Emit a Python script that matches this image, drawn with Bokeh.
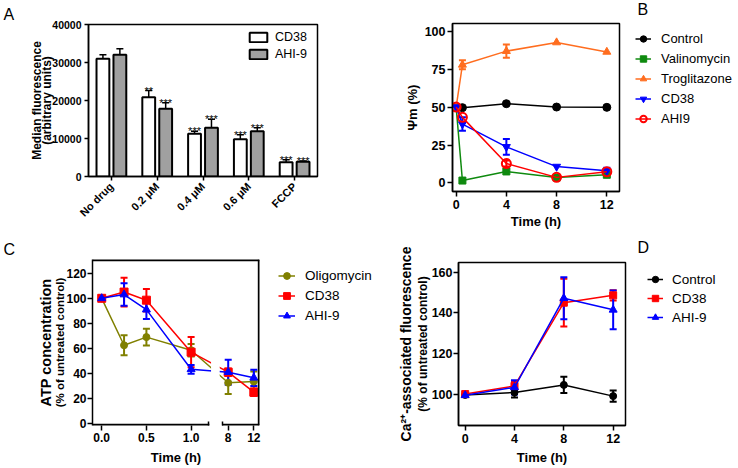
from math import pi
import numpy as np
from bokeh.plotting import figure
from bokeh.layouts import column, row
from bokeh.models import (FactorRange, Range1d, FixedTicker, Legend, LegendItem,
                          Whisker, TeeHead, LinearAxis, ColumnDataSource, Label,
                          BoxAnnotation, CustomJSTickFormatter, Title)
from bokeh.transform import dodge
from bokeh.core.properties import value
from bokeh.embed import file_html
from bokeh.resources import INLINE

FONT = "Liberation Sans"

# ---------------- data ----------------
# Panel A
a_categories = ["No drug", "0.2 \u03bcM", "0.4 \u03bcM", "0.6 \u03bcM", "FCCP"]
a_cd38 = [30980, 20870, 11230, 9820, 3770]
a_cd38_err = [1050, 1750, 700, 1150, 620]
a_ahi9 = [32030, 17810, 12810, 11930, 3860]
a_ahi9_err = [1570, 1580, 2280, 880, 200]
a_cd38_sig = ["", "**", "***", "***", "***"]
a_ahi9_sig = ["", "***", "***", "***", "***"]
a_yticks = [0, 10000, 20000, 30000, 40000]

# Panel B
b_time = [0, 0.5, 4, 8, 12]
b_control = [50, 49.6, 52.2, 50, 49.8]
b_valinomycin = [50, 1.6, 7.6, 3.6, 5.4]
b_troglitazone = [50, 77.8, 86.8, 92.5, 86.3]
b_troglitazone_err = [0, 3, 4.3, 0, 0]
b_cd38 = [50, 38.8, 23.8, 10.8, 8.1]
b_cd38_err = [0, 4.4, 5.2, 0, 2]
b_ahi9 = [50, 43.2, 12.8, 3.7, 7.4]
b_ahi9_err = [0, 0, 2, 0, 0]
b_xticks = [0, 4, 8, 12]
b_yticks = [0, 25, 50, 75, 100]

# Panel C
c_time = [0, 0.25, 0.5, 1.0, 8, 12]
c_oligomycin = [100, 62.5, 69, 58.5, 32.5, 33.5]
c_oligomycin_err = [0, 8, 6.6, 5, 9, 8]
c_cd38 = [100, 105, 98.5, 57, 41, 25]
c_cd38_err = [1.5, 11.5, 9, 12, 3, 3]
c_ahi9 = [100, 103, 91, 43.3, 41, 36.5]
c_ahi9_err = [0, 9, 7.5, 3.5, 10, 6.5]
c_xticks = [0.0, 0.5, 1.0, 8, 12]
c_yticks = [0, 20, 40, 60, 80, 100, 120]

# Panel D
d_time = [0, 4, 8, 12]
d_control = [99.8, 101, 104.7, 99.2]
d_control_err = [0, 2.5, 4, 2.7]
d_cd38 = [100.2, 104.2, 145, 148.6]
d_cd38_err = [0, 2, 11.7, 2.5]
d_ahi9 = [99.6, 103.5, 147.2, 141.5]
d_ahi9_err = [0, 3.5, 10.3, 9.5]
d_xticks = [0, 4, 8, 12]
d_yticks = [100, 120, 140, 160]

# series styles: (label, color, marker, size, filled)
B_STYLE = [("Control", "black", "circle", 8, True),
           ("Valinomycin", "#0f8a0f", "square", 7, True),
           ("Troglitazone", "#ff6d1f", "triangle", 8, True),
           ("CD38", "#0000ff", "inverted_triangle", 8, True),
           ("AHI9", "#ff0000", "circle", 9, False)]
C_STYLE = [("Oligomycin", "#808000", "circle", 7, True),
           ("CD38", "#ff0000", "square", 8, True),
           ("AHI-9", "#0000ff", "triangle", 8, True)]
D_STYLE = [("Control", "black", "circle", 7, True),
           ("CD38", "#ff0000", "square", 7, True),
           ("AHI-9", "#0000ff", "triangle", 8, True)]


# ---------------- helpers ----------------
def no_align(p):
    try:
        p.frame_align = False
    except AttributeError:
        pass


def make_fig(width, height, left, right, top, bottom, x_range, y_range):
    p = figure(width=width, height=height, x_range=x_range, y_range=y_range,
               min_border_left=left, min_border_right=right,
               min_border_top=top, min_border_bottom=bottom,
               output_backend="svg", toolbar_location=None, title=None)
    no_align(p)
    p.grid.visible = False
    p.background_fill_color = "white"
    p.border_fill_color = "white"
    p.outline_line_color = "black"
    p.outline_line_width = 1.5
    p.outline_line_alpha = 1
    return p


def style_axis(ax, tick_size, standoff=2, tick_out=5):
    ax.axis_line_width = 1.5
    ax.axis_line_color = "black"
    ax.major_tick_line_width = 1.5
    ax.major_tick_line_color = "black"
    ax.major_tick_out = tick_out
    ax.major_tick_in = 0
    ax.minor_tick_line_color = None
    ax.major_label_text_font = FONT
    ax.major_label_text_font_style = "bold"
    ax.major_label_text_font_size = tick_size
    ax.major_label_text_color = "black"
    ax.major_label_standoff = standoff
    ax.axis_label_text_font = FONT
    ax.axis_label_text_font_style = "bold"
    ax.axis_label_text_color = "black"


def set_title(ax, text, size, standoff):
    ax.axis_label = text
    ax.axis_label_text_font_size = size
    ax.axis_label_standoff = standoff


def add_outer_title(p, text, size, standoff):
    ax = LinearAxis(ticker=FixedTicker(ticks=[]), axis_line_color=None,
                    major_tick_out=0, major_tick_in=0, major_label_standoff=0,
                    major_tick_line_color=None, minor_tick_line_color=None,
                    major_label_text_color=None,
                    axis_label=text, axis_label_standoff=standoff,
                    axis_label_text_font=FONT, axis_label_text_font_style="bold",
                    axis_label_text_font_size=size, axis_label_text_color="black")
    p.add_layout(ax, "left")


def make_legend(items, loc, size, gw, gh, standoff, spacing):
    return Legend(items=items, location=loc, padding=0, margin=0,
                  border_line_color=None, background_fill_alpha=0,
                  glyph_width=gw, glyph_height=gh, label_height=gh,
                  label_standoff=standoff, spacing=spacing,
                  label_text_font=FONT, label_text_font_size=size,
                  label_text_color="black")


def add_letter(p, letter, x_off):
    p.add_layout(Title(text=letter, align="left", offset=x_off, standoff=0,
                       vertical_align="top", text_font=FONT, text_font_size="16px",
                       text_font_style="normal", text_color="black"), "above")


def add_series(p, xs, ys, errs, color, marker, size, filled, lw=1.5):
    ln = p.line(xs, ys, line_color=color, line_width=lw)
    if errs is not None:
        xs_a = np.asarray(xs, dtype=float)
        ys_a = np.asarray(ys, dtype=float)
        es_a = np.asarray(errs, dtype=float)
        m = es_a > 0
        src = ColumnDataSource(dict(x=xs_a[m], lo=(ys_a - es_a)[m], hi=(ys_a + es_a)[m]))
        p.add_layout(Whisker(base="x", lower="lo", upper="hi", source=src,
                             line_color=color, line_width=2,
                             upper_head=TeeHead(size=7, line_color=color, line_width=2),
                             lower_head=TeeHead(size=7, line_color=color, line_width=2)))
    sc = p.scatter(xs, ys, marker=marker, size=size, fill_color=color if filled else None,
                   line_color=color, line_width=1 if filled else 2)
    return ln, sc


def legend_panel(width, height, styles, loc, size, gw, gh, standoff, spacing,
                 letter=None, letter_xy=None):
    """A side figure holding a legend (and the panel letter) next to a plot."""
    q = figure(width=width, height=height, x_range=Range1d(0, width), y_range=Range1d(0, height),
               min_border=0, min_border_left=0, min_border_right=0,
               min_border_top=0, min_border_bottom=0,
               x_axis_type=None, y_axis_type=None, output_backend="svg",
               toolbar_location=None, title=None)
    no_align(q)
    q.outline_line_color = None
    q.background_fill_color = "white"
    q.border_fill_color = "white"
    items = []
    for label, color, marker, msize, filled in styles:
        ln = q.line([-1000, -999], [-1000, -1000], line_color=color, line_width=1.5)
        sc = q.scatter([-1000], [-1000], marker=marker, size=msize,
                       fill_color=color if filled else None, line_color=color,
                       line_width=1 if filled else 2)
        items.append(LegendItem(label=label, renderers=[ln, sc]))
    q.add_layout(make_legend(items, loc, size, gw, gh, standoff, spacing))
    if letter is not None:
        q.add_layout(Label(x=letter_xy[0], y=letter_xy[1], text=letter, text_font=FONT,
                           text_font_size="16px", text_align="left", text_baseline="top",
                           text_color="black"))
    return q


# ---------------- Panel A ----------------
pA = make_fig(368, 232, 88, 51, 24, 56,
              FactorRange(factors=a_categories, range_padding=0), Range1d(0, 40000))
srcA = ColumnDataSource(dict(
    cat=a_categories, cd38=a_cd38, ahi9=a_ahi9,
    cd38_up=[v + e for v, e in zip(a_cd38, a_cd38_err)],
    ahi9_up=[v + e for v, e in zip(a_ahi9, a_ahi9_err)],
    cd38_sig=a_cd38_sig, ahi9_sig=a_ahi9_sig))
OFF, BW = 0.185, 0.28
rA1 = pA.vbar(x=dodge("cat", -OFF, range=pA.x_range), top="cd38", width=BW, source=srcA,
              fill_color="white", line_color="black", line_width=2)
rA2 = pA.vbar(x=dodge("cat", OFF, range=pA.x_range), top="ahi9", width=BW, source=srcA,
              fill_color="#a0a0a0", line_color="black", line_width=2)
for off, lo, hi, sig in [(-OFF, "cd38", "cd38_up", "cd38_sig"), (OFF, "ahi9", "ahi9_up", "ahi9_sig")]:
    pA.add_layout(Whisker(base=dodge("cat", off, range=pA.x_range), lower=lo, upper=hi,
                          source=srcA, line_color="black", line_width=1.5,
                          upper_head=TeeHead(size=7, line_color="black", line_width=1.5),
                          lower_head=None))
    pA.text(x=dodge("cat", off, range=pA.x_range), y=hi, text=sig, source=srcA,
            text_font=value(FONT), text_font_size="11px", text_align="center",
            text_baseline="alphabetic", text_color="black")
pA.yaxis.ticker = FixedTicker(ticks=a_yticks)
style_axis(pA.yaxis[0], "10.5px", 3, 4)
style_axis(pA.xaxis[0], "11px", 4, 4)
pA.xaxis.major_label_orientation = pi / 4
set_title(pA.yaxis[0], "(arbitrary units)", "12px", -5)
add_outer_title(pA, "Median fluorescence", "12px", -6)
pA.add_layout(make_legend([LegendItem(label="CD38", renderers=[rA1]),
                           LegendItem(label="AHI-9", renderers=[rA2])],
                          (159, 115), "12.5px", 22, 12, 6, 3))
add_letter(pA, "A", -85)

# ---------------- Panel B ----------------
pB = make_fig(264, 232, 84, 13, 23, 41, Range1d(-0.29, 13.01), Range1d(-5.6, 105))
for (name, color, marker, size, filled), ys, errs in zip(
        B_STYLE,
        [b_control, b_valinomycin, b_troglitazone, b_cd38, b_ahi9],
        [None, None, b_troglitazone_err, b_cd38_err, b_ahi9_err]):
    add_series(pB, b_time, ys, errs, color, marker, size, filled)
pB.xaxis.ticker = FixedTicker(ticks=b_xticks)
pB.yaxis.ticker = FixedTicker(ticks=b_yticks)
style_axis(pB.xaxis[0], "12.5px", 3)
style_axis(pB.yaxis[0], "12.5px", 2)
set_title(pB.yaxis[0], "\u03a8m (%)", "13px", 2)
set_title(pB.xaxis[0], "Time (h)", "13px", 2)
qB = legend_panel(104, 232, B_STYLE, (3, 105), "13px", 16, 17, 10, 3,
                  letter="B", letter_xy=(5, 232))

# ---------------- Panel C (broken x axis) ----------------
C_SPLIT = 1.0      # last time point before the axis break
C_B8 = 1.415       # axis coordinate of the 8 h tick
C_RS = 0.0716      # axis units per hour after the break


def c_axis(t):
    return t if t <= C_SPLIT else C_B8 + (t - 8) * C_RS


c_xs = [c_axis(t) for t in c_time]
CX0, CX1, CY0, CY1 = -0.103, 1.765, -1.6, 131
pC = make_fig(270, 235, 92, 11, 27, 38, Range1d(CX0, CX1), Range1d(CY0, CY1))
pC.outline_line_color = None
for (name, color, marker, size, filled), ys, errs in zip(
        C_STYLE, [c_oligomycin, c_cd38, c_ahi9], [c_oligomycin_err, c_cd38_err, c_ahi9_err]):
    add_series(pC, c_xs, ys, errs, color, marker, size, filled)
cx_ax = pC.below[0]
cy_ax = pC.left[0]
cx_ax.ticker = FixedTicker(ticks=[c_axis(t) for t in c_xticks], minor_ticks=[1.200, 1.351])
cx_ax.formatter = CustomJSTickFormatter(
    args=dict(b8=C_B8, rs=C_RS),
    code="return tick > 1.1 ? ((tick - b8) / rs + 8).toFixed(0) : tick.toFixed(1);")
cy_ax.ticker = FixedTicker(ticks=c_yticks)
style_axis(cx_ax, "12px", 2)
style_axis(cy_ax, "12px", 1)
cx_ax.axis_line_color = None
cx_ax.minor_tick_line_color = "black"
cx_ax.minor_tick_line_width = 1.5
cx_ax.minor_tick_in = 4
cx_ax.minor_tick_out = 0
set_title(cx_ax, "Time (h)", "13px", 5)
set_title(cy_ax, "(% of untreated control)", "11.5px", -3)
add_outer_title(pC, "ATP concentration", "14.5px", -2)
# axis break: blank band through the plot
pC.add_layout(BoxAnnotation(left=1.223, right=1.320, bottom=CY0, top=CY1,
                            fill_color="white", fill_alpha=1, line_color=None))
# frame edges (bottom edge interrupted at the break)
for l, r, b, t in [(CX0, 1.204, CY0 - 5, CY0 + 1.3), (1.347, CX1, CY0 - 5, CY0 + 1.3),
                   (CX0, CX1, CY1 - 1.3, CY1 + 5), (CX1 - 0.019, CX1 + 1, CY0, CY1)]:
    pC.add_layout(BoxAnnotation(left=l, right=r, bottom=b, top=t,
                                fill_color="black", fill_alpha=1, line_color=None))
add_letter(pC, "C", -89)
qC = legend_panel(116, 235, C_STYLE, (8, 143), "13.5px", 17, 17, 10, 3)

# ---------------- Panel D ----------------
DX0, DX1, DY0, DY1 = -0.54, 13.0, 84.8, 164.7
pD = make_fig(247, 235, 72, 8, 30, 38, Range1d(DX0, DX1), Range1d(DY0, DY1))
for (name, color, marker, size, filled), ys, errs in zip(
        D_STYLE, [d_control, d_cd38, d_ahi9], [d_control_err, d_cd38_err, d_ahi9_err]):
    add_series(pD, d_time, ys, errs, color, marker, size, filled)
pD.xaxis.ticker = FixedTicker(ticks=d_xticks)
pD.yaxis.ticker = FixedTicker(ticks=d_yticks)
style_axis(pD.xaxis[0], "12.5px", 3)
style_axis(pD.yaxis[0], "12.5px", 1)
set_title(pD.xaxis[0], "Time (h)", "13px", 4)
set_title(pD.yaxis[0], "(% of untreated control)", "12px", -1)
add_outer_title(pD, "Ca\u00b2\u207a-associated fluorescence", "14px", -1)
qD = legend_panel(103, 235, D_STYLE, (14, 142), "13.5px", 16, 16, 9, 3,
                  letter="D", letter_xy=(4, 229))

layout = column(row(pA, pB, qB), row(pC, qC, pD, qD))
open("out.html", "w").write(file_html(layout, INLINE))
